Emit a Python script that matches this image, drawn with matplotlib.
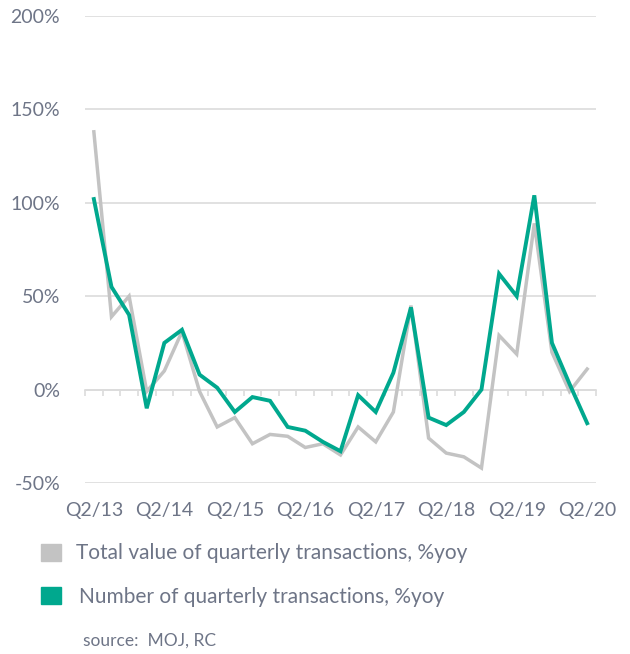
import numpy as np
import matplotlib.pyplot as plt
from matplotlib.patches import Rectangle

plt.rcParams['font.family'] = ['Lato', 'DejaVu Sans']

quarters = ['Q2/13', 'Q3/13', 'Q4/13', 'Q1/14', 'Q2/14', 'Q3/14', 'Q4/14', 'Q1/15',
            'Q2/15', 'Q3/15', 'Q4/15', 'Q1/16', 'Q2/16', 'Q3/16', 'Q4/16', 'Q1/17',
            'Q2/17', 'Q3/17', 'Q4/17', 'Q1/18', 'Q2/18', 'Q3/18', 'Q4/18', 'Q1/19',
            'Q2/19', 'Q3/19', 'Q4/19', 'Q1/20', 'Q2/20']
total_value = [138, 39, 50, -1, 10, 31, -1, -20, -15, -29, -24, -25, -31, -29, -35, -20,
               -28, -12, 45, -26, -34, -36, -42, 29, 19, 89, 20, -1, 11]
num_trans = [102, 55, 40, -10, 25, 32, 8, 1, -12, -4, -6, -20, -22, -28, -33, -3,
             -12, 9, 44, -15, -19, -12, 0, 62, 50, 104, 25, 3, -18]
tick_labels = ['Q2/13', 'Q2/14', 'Q2/15', 'Q2/16', 'Q2/17', 'Q2/18', 'Q2/19', 'Q2/20']

GREEN = '#00A88E'
GREY = '#C3C3C3'
TXT = '#6E7587'
GRID = '#DCDCDC'

fig = plt.figure(figsize=(6.3, 6.54), dpi=100)
ax = fig.add_axes([0.135, 0.2615, 0.811, 0.714])

x = np.arange(len(quarters))
ax.plot(x, total_value, color=GREY, lw=2.5, solid_joinstyle='miter', zorder=3)
ax.plot(x, num_trans, color=GREEN, lw=2.8, solid_joinstyle='miter', zorder=4)

ax.set_xlim(-0.5, len(quarters) - 0.5)
ax.set_ylim(-50, 200)
ax.set_yticks([-50, 0, 50, 100, 150, 200])
ax.set_yticklabels(['-50%', '0%', '50%', '100%', '150%', '200%'])
ax.set_xticks(x[::4])
ax.set_xticklabels(tick_labels)
ax.grid(axis='y', color=GRID, lw=1.2)
ax.set_axisbelow(True)
for s in ax.spines.values():
    s.set_visible(False)
ax.tick_params(axis='both', length=0, labelsize=14, labelcolor=TXT)
ax.tick_params(axis='y', pad=18)
ax.tick_params(axis='x', pad=14)

# zero axis with category ticks
sec = ax.secondary_xaxis(0.2)
sec.set_xticks(np.arange(-0.5, len(quarters), 1.0))
sec.set_xticklabels([])
sec.tick_params(length=4, color=GRID, width=1.2)
sec.spines['bottom'].set_color(GRID)
sec.spines['bottom'].set_linewidth(1.2)

# legend
fig.patches.append(Rectangle((41 / 630, 1 - 561 / 654), 20 / 630, 17 / 654,
                             transform=fig.transFigure, color=GREY))
fig.text(76 / 630, 1 - 553 / 654, 'Total value of quarterly transactions, %yoy',
         color=TXT, fontsize=15, va='center')
fig.patches.append(Rectangle((41 / 630, 1 - 604 / 654), 20 / 630, 17 / 654,
                             transform=fig.transFigure, color=GREEN))
fig.text(79 / 630, 1 - 597 / 654, 'Number of quarterly transactions, %yoy',
         color=TXT, fontsize=15, va='center')
fig.text(83 / 630, 1 - 641 / 654, 'source:  MOJ, RC', color=TXT, fontsize=12.5, va='center')

fig.savefig('out.png', dpi=100)
